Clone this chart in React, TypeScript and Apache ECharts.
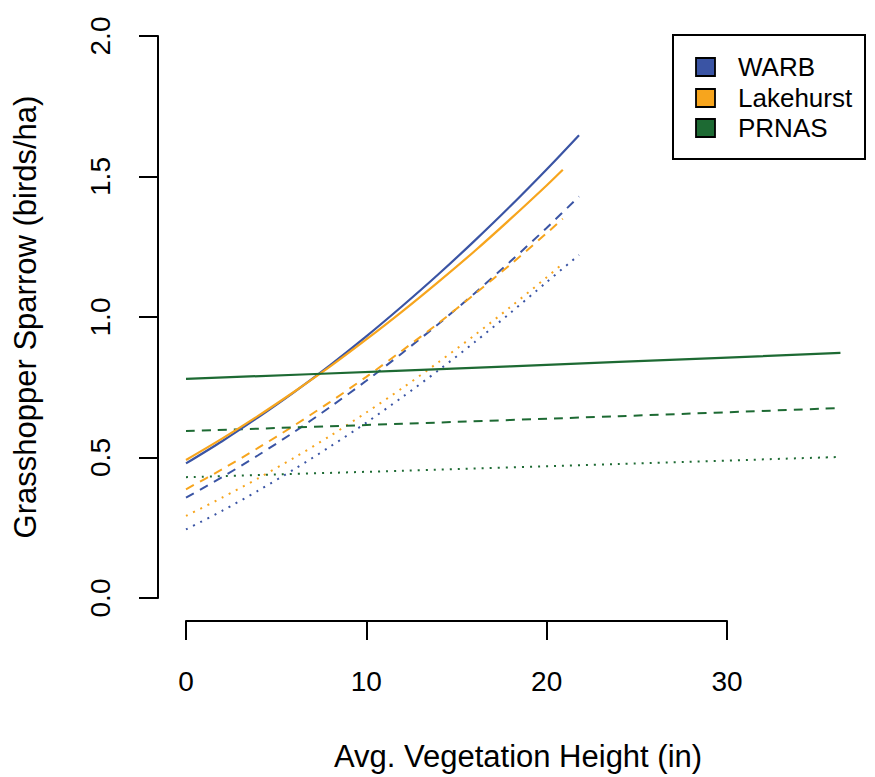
import React, { useEffect, useRef } from "react";
import * as echarts from "echarts";

// Vegetation height (in) sampled along each site's fitted curves
const warbX = [0, 2, 4, 6, 8, 10, 12, 14, 16, 18, 20, 21.8];
const lakeX = [0, 2, 4, 6, 8, 10, 12, 14, 16, 18, 20, 20.9];
const prnasX = [0, 12, 24, 36.3];

// Grasshopper Sparrow density (birds/ha)
const warbSolid = [0.479, 0.558, 0.643, 0.733, 0.829, 0.931, 1.039, 1.152, 1.271, 1.395, 1.525, 1.647];
const warbDashed = [0.357, 0.43, 0.508, 0.591, 0.68, 0.773, 0.872, 0.975, 1.084, 1.198, 1.317, 1.429];
const warbDotted = [0.244, 0.31, 0.382, 0.458, 0.539, 0.624, 0.715, 0.81, 0.91, 1.015, 1.124, 1.221];

const lakeSolid = [0.491, 0.567, 0.648, 0.734, 0.824, 0.92, 1.02, 1.125, 1.234, 1.349, 1.468, 1.524];
const lakeDashed = [0.387, 0.458, 0.534, 0.614, 0.698, 0.787, 0.881, 0.978, 1.081, 1.187, 1.298, 1.35];
const lakeDotted = [0.292, 0.357, 0.426, 0.499, 0.577, 0.66, 0.747, 0.839, 0.935, 1.036, 1.141, 1.19];

const prnasSolid = [0.78, 0.809, 0.84, 0.872];
const prnasDashed = [0.594, 0.62, 0.647, 0.676];
const prnasDotted = [0.43, 0.453, 0.477, 0.502];

const sites = ["WARB", "Lakehurst", "PRNAS"];
const siteColors = ["#3A54A4", "#F7A51D", "#1D6A33"];

const xTicks = [0, 10, 20, 30];
const yTicks = [0, 0.5, 1, 1.5, 2];

const FONT = "'Liberation Sans', Arial, Helvetica, sans-serif";

const pairs = (xs: number[], ys: number[]) => xs.map((x, i) => [x, ys[i]]);

type Style = "solid" | "dashed" | "dotted";
const dashFor = (s: Style): any =>
  s === "solid" ? "solid" : s === "dashed" ? [9, 7] : [2, 6];

const makeLine = (name: string, xs: number[], ys: number[], color: string, s: Style) => ({
  name,
  type: "line",
  xAxisIndex: 0,
  yAxisIndex: 0,
  data: pairs(xs, ys),
  showSymbol: false,
  symbol: "none",
  smooth: 0.3,
  silent: true,
  lineStyle: { color, width: s === "solid" ? 2.2 : 2, type: dashFor(s), cap: "butt" },
  z: s === "solid" ? 5 : 4,
});

const axisBlack = { color: "#000", width: 2 };

export default function App() {
  const ref = useRef<HTMLDivElement>(null);

  useEffect(() => {
    if (!ref.current) return;
    const chart = echarts.init(ref.current, undefined, { renderer: "svg" });

    const series = [
      makeLine("WARB", warbX, warbDotted, siteColors[0], "dotted"),
      makeLine("Lakehurst", lakeX, lakeDotted, siteColors[1], "dotted"),
      makeLine("PRNAS", prnasX, prnasDotted, siteColors[2], "dotted"),
      makeLine("WARB", warbX, warbDashed, siteColors[0], "dashed"),
      makeLine("Lakehurst", lakeX, lakeDashed, siteColors[1], "dashed"),
      makeLine("PRNAS", prnasX, prnasDashed, siteColors[2], "dashed"),
      makeLine("WARB", warbX, warbSolid, siteColors[0], "solid"),
      makeLine("Lakehurst", lakeX, lakeSolid, siteColors[1], "solid"),
      makeLine("PRNAS", prnasX, prnasSolid, siteColors[2], "solid"),
    ];

    // Legend box in the top-right corner
    const rowY = [67, 98, 128];
    const legendGraphics: any[] = [
      {
        type: "rect",
        shape: { x: 673, y: 35, width: 192, height: 124 },
        style: { fill: "#fff", stroke: "#000", lineWidth: 2 },
        z: 10,
      },
    ];
    sites.forEach((s, i) => {
      legendGraphics.push({
        type: "rect",
        shape: { x: 696, y: rowY[i] - 9, width: 19, height: 18 },
        style: { fill: siteColors[i], stroke: "#000", lineWidth: 1.8 },
        z: 11,
      });
      legendGraphics.push({
        type: "text",
        x: 738,
        y: rowY[i],
        style: {
          text: s,
          fill: "#000",
          font: `26px ${FONT}`,
          textVerticalAlign: "middle",
          textAlign: "left",
        },
        z: 11,
      });
    });

    chart.setOption({
      animation: false,
      backgroundColor: "#fff",
      textStyle: { fontFamily: FONT },
      grid: [
        // plotting region (extends past the last x tick)
        { left: 186, top: 36, width: 664, height: 562, containLabel: false },
        // region spanned by the drawn x axis (0 to 30)
        { left: 186, top: 36, width: 541, height: 562, containLabel: false },
      ],
      xAxis: [
        {
          type: "value",
          gridIndex: 0,
          min: 0,
          max: 36.83,
          name: "Avg. Vegetation Height (in)",
          nameLocation: "middle",
          nameGap: 143,
          nameTextStyle: { fontSize: 31, color: "#000", fontFamily: FONT },
          axisLine: { show: false, onZero: false },
          axisTick: { show: false },
          axisLabel: { show: false },
          splitLine: { show: false },
        },
        {
          type: "value",
          gridIndex: 1,
          min: xTicks[0],
          max: xTicks[xTicks.length - 1],
          interval: 10,
          offset: 23,
          axisLine: { show: true, onZero: false, lineStyle: axisBlack },
          axisTick: { show: true, inside: false, length: 19, lineStyle: axisBlack },
          axisLabel: { margin: 46, fontSize: 28, color: "#000", fontFamily: FONT },
          splitLine: { show: false },
        },
      ],
      yAxis: [
        {
          type: "value",
          gridIndex: 0,
          min: yTicks[0],
          max: yTicks[yTicks.length - 1],
          interval: 0.5,
          offset: 28,
          name: "Grasshopper Sparrow (birds/ha)",
          nameLocation: "middle",
          nameGap: 117,
          nameTextStyle: { fontSize: 31, color: "#000", fontFamily: FONT },
          axisLine: { show: true, onZero: false, lineStyle: axisBlack },
          axisTick: { show: true, inside: false, length: 19, lineStyle: axisBlack },
          axisLabel: {
            margin: 44,
            fontSize: 28,
            color: "#000",
            fontFamily: FONT,
            rotate: 90,
            formatter: (v: number) => v.toFixed(1),
          },
          splitLine: { show: false },
        },
        {
          type: "value",
          gridIndex: 1,
          min: 0,
          max: 2,
          show: false,
          splitLine: { show: false },
        },
      ],
      series,
      graphic: legendGraphics,
    });

    return () => chart.dispose();
  }, []);

  return (
    <div
      ref={ref}
      style={{ position: "fixed", left: 0, top: 0, width: 875, height: 777, background: "#fff" }}
    />
  );
}
